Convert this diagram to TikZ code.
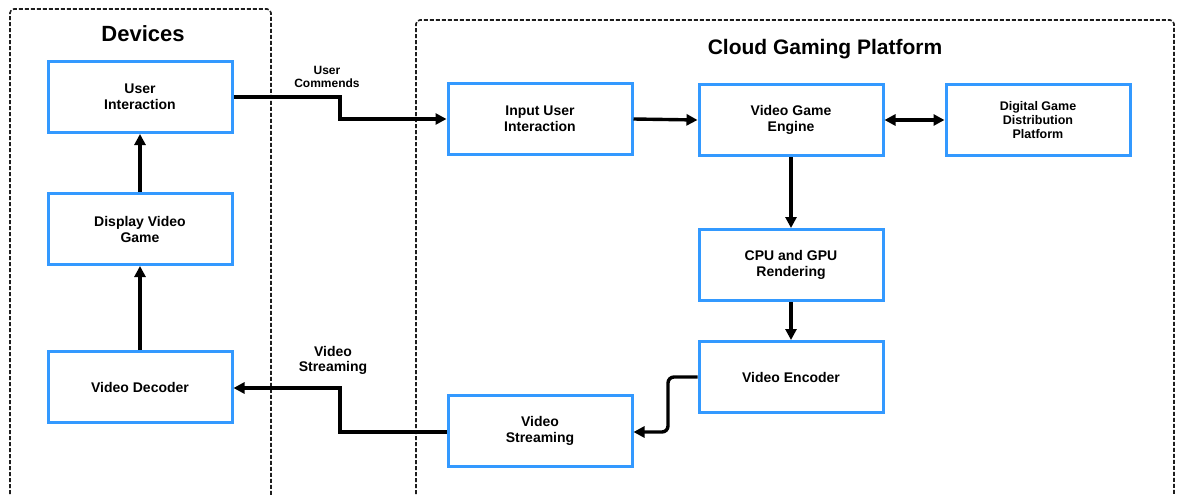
\documentclass[tikz,border=0pt]{standalone}
\usepackage{fontspec}
\setmainfont{Liberation Sans}
\usetikzlibrary{arrows.meta}
\definecolor{boxblue}{RGB}{51,153,255}
\definecolor{dashgray}{RGB}{30,30,30}
\begin{document}
\begin{tikzpicture}[x=1pt,y=-1pt,
  blk/.style={draw=boxblue,line width=3pt,minimum width=184pt,minimum height=71pt,align=center,font=\bfseries\fontsize{14}{16}\selectfont,inner sep=2pt},
  tip/.tip={Triangle[length=11pt,width=11pt]},
  conn/.style={line width=3.4pt,-tip},
  grp/.style={draw=dashgray,line width=1.6pt,dash pattern=on 4pt off 2pt,rounded corners=4pt},
  lbl/.style={font=\bfseries\fontsize{12}{13}\selectfont,align=center}]
\useasboundingbox (0,0) rectangle (1178,495);
\fill[white] (0,0) rectangle (1178,495);
\draw[grp] (10,530) -- (10,9) -- (271,9) -- (271,530);
\draw[grp] (416,530) -- (416,20) -- (1174,20) -- (1174,530);
\node[font=\bfseries\fontsize{22}{24}\selectfont] (tdev) at (143,34) {Devices};
\node[font=\bfseries\fontsize{21}{24}\selectfont] (tcloud) at (825,49) {Cloud Gaming Platform};

\node[blk] (ui) at (140,97) {User\\Interaction};
\node[blk] (dvg) at (140,229) {Display Video\\Game};
\node[blk] (vd) at (140,387) {Video Decoder};
\node[blk] (iui) at (540,119) {Input User\\Interaction};
\node[blk] (vge) at (791,120) {Video Game\\Engine};
\node[blk,font=\bfseries\fontsize{12.5}{14}\selectfont] (dgd) at (1038,120) {Digital Game\\Distribution\\Platform};
\node[blk] (cpu) at (791,265) {CPU and GPU\\Rendering};
\node[blk] (ve) at (791,377) {Video Encoder};
\node[blk] (vs) at (540,431) {Video\\Streaming};

\coordinate (c1) at (340,97);
\coordinate (c2) at (340,119);
\draw[conn] (ui.east |- 0,97) -- (c1) -- (c2) -- (iui.west |- 0,119);
\node[lbl] (ucl) at (327,77) {User\\Commends};
\draw[conn] (iui.east) -- (vge.west);
\draw[line width=3.4pt,tip-tip] (vge.east) -- (dgd.west);
\draw[conn] (vge.south) -- (cpu.north);
\draw[conn] (cpu.south) -- (ve.north);
\coordinate (c3) at (668,377);
\coordinate (c4) at (668,432);
\draw[conn,rounded corners=6pt] (ve.west) -- (c3) -- (c4) -- (vs.east |- 0,432);
\coordinate (c5) at (340,432);
\coordinate (c6) at (340,388);
\draw[conn] (vs.west |- 0,432) -- (c5) -- (c6) -- (vd.east |- 0,388);
\node[font=\bfseries\fontsize{14}{15}\selectfont,align=center] (vsl) at (333,360) {Video\\Streaming};
\draw[conn] (vd.north) -- (dvg.south);
\draw[conn] (dvg.north) -- (ui.south);
\end{tikzpicture}
\end{document}
